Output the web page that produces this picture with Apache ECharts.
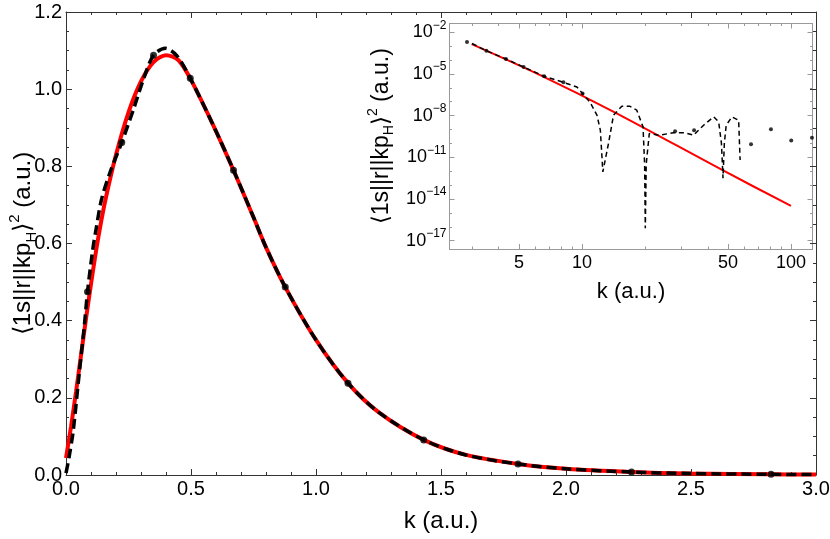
<!DOCTYPE html>
<html>
<head>
<meta charset="utf-8">
<script src="https://cdn.jsdelivr.net/npm/echarts@6/dist/echarts.min.js"></script>
<style>
html, body { margin: 0; padding: 0; background: #fff; }
#chart { width: 830px; height: 539px; }
</style>
</head>
<body>
<div id="chart"></div>
<script>
// main panel, k in a.u.
var kRed = [0, 0.02, 0.04, 0.06, 0.08, 0.1, 0.12, 0.14, 0.16, 0.2, 0.25, 0.3, 0.35, 0.4, 0.45, 0.5,
    0.59, 0.67, 0.75, 0.8, 0.877, 1.0, 1.128, 1.25, 1.431, 1.6, 1.808, 2.0, 2.262, 2.5, 2.82, 3.0];
var vRed = [0.044, 0.125, 0.215, 0.31, 0.405, 0.495, 0.58, 0.655, 0.72, 0.83, 0.94, 1.02, 1.07, 1.088, 1.075, 1.024,
    0.905, 0.79, 0.668, 0.59, 0.487, 0.35, 0.238, 0.163, 0.091, 0.052, 0.0286, 0.016, 0.0078, 0.0038, 0.0018, 0.0011];

var kNum = [0, 0.012, 0.029, 0.053, 0.073, 0.086, 0.107, 0.12, 0.142, 0.176, 0.223, 0.27, 0.31, 0.35, 0.397, 0.443, 0.497,
    0.59, 0.67, 0.75, 0.8, 0.877, 1.0, 1.128, 1.25, 1.431, 1.6, 1.808, 2.0, 2.262, 2.5, 2.82, 3.0];
var vNum = [0.005, 0.045, 0.115, 0.264, 0.385, 0.475, 0.584, 0.636, 0.714, 0.784, 0.862, 0.948, 1.026, 1.088, 1.106, 1.087, 1.028,
    0.905, 0.79, 0.668, 0.59, 0.487, 0.35, 0.238, 0.163, 0.091, 0.052, 0.0286, 0.016, 0.0078, 0.0038, 0.0018, 0.0011];

var kDots = [0.086, 0.223, 0.35, 0.497, 0.67, 0.877, 1.128, 1.431, 1.808, 2.262, 2.82];
var vDots = [0.475, 0.862, 1.088, 1.028, 0.79, 0.487, 0.238, 0.091, 0.0286, 0.0078, 0.0018];

// inset (log-log), values given as log10 exponents
var insetRedK = [2.97, 6.31, 14.2, 47.1, 100];
var insetRedExp = [-2.86, -5.09, -7.73, -11.93, -14.5];

var insetNumK = [2.98, 3.48, 4.33, 5.25, 6.61, 8.13, 9.46, 10.07, 10.96, 11.8, 12.25, 12.59, 13.4, 14.16, 15.52, 16.9, 18.3,
    19.6, 19.95, 20.1, 20.3, 21.0, 23.3, 27.4, 31.2, 34.2, 38.2, 42.7, 45.1, 46.5, 47.3, 48.0, 49.0, 52.2, 56.2, 57.1];
var insetNumExp = [-2.81, -3.33, -3.92, -4.5, -5.17, -5.6, -5.94, -6.41, -7.06, -7.97, -9.05, -12.05, -10.0, -7.97, -7.32, -7.32, -7.61,
    -8.81, -11.5, -16.1, -11.5, -9.29, -9.41, -9.24, -9.24, -9.41, -8.69, -8.09, -8.45, -10.0, -12.5, -10.0, -8.69, -8.09, -8.33, -11.2];

var insetDotK = [2.82, 3.49, 4.33, 5.26, 6.6, 8.16, 10.07, 27.9, 34.4, 64.4, 80.2, 100.3, 126];
var insetDotExp = [-2.7, -3.33, -3.92, -4.5, -5.17, -5.6, -6.41, -9.12, -9.05, -10.06, -8.98, -9.79, -9.6];

var insetXLabels = [5, 10, 50, 100];
var insetXMinor = [3, 4, 6, 7, 8, 9, 20, 30, 40, 60, 70, 80, 90];
var insetYLabels = [-17, -14, -11, -8, -5, -2];
var insetYMinor = [-17, -16, -15, -14, -13, -12, -11, -10, -9, -8, -7, -6, -5, -4, -3, -2];

var FONT = "'Liberation Sans', Arial, Helvetica, sans-serif";
var FRAME = '#333';
var IFRAME = '#999';

function pairs(xs, ys) {
    return xs.map(function (x, i) { return [x, ys[i]]; });
}
function logPairs(ks, exps) {
    return ks.map(function (k, i) { return [Math.log10(k), exps[i]]; });
}
function lg(list) {
    return list.map(function (v) { return Math.log10(v); });
}

var titleRich = {
    t: { fontSize: 24, fontFamily: FONT, color: '#000', lineHeight: 32 },
    sub: { fontSize: 15, fontFamily: FONT, color: '#000', lineHeight: 22, verticalAlign: 'bottom' },
    sup: { fontSize: 15, fontFamily: FONT, color: '#000', lineHeight: 17, verticalAlign: 'top' }
};
var insetTitleRich = {
    t: { fontSize: 23, fontFamily: FONT, color: '#000', lineHeight: 30 },
    sub: { fontSize: 14, fontFamily: FONT, color: '#000', lineHeight: 20, verticalAlign: 'bottom' },
    sup: { fontSize: 14, fontFamily: FONT, color: '#000', lineHeight: 16, verticalAlign: 'top' }
};
var titleText = '{t|⟨1s||r||kp}{sub|H}{t|⟩}{sup|2}{t| (a.u.)}';

/** value axis builder for the main panel */
function mainAxis(opt) {
    var ax = {
        type: 'value',
        gridIndex: 0,
        min: opt.min, max: opt.max, interval: opt.interval,
        position: opt.position,
        axisLine: { show: true, onZero: false, lineStyle: { color: FRAME, width: 1 } },
        axisTick: { show: true, inside: true, length: 6, lineStyle: { color: FRAME } },
        minorTick: { show: true, splitNumber: opt.minor, length: 3, lineStyle: { color: FRAME } },
        splitLine: { show: false },
        minorSplitLine: { show: false },
        axisLabel: { show: !!opt.labels, fontSize: 20, fontFamily: FONT, color: '#000', margin: 4,
            formatter: function (v) { return v.toFixed(1); } }
    };
    if (opt.name) {
        ax.name = opt.name;
        ax.nameLocation = 'middle';
        ax.nameGap = opt.nameGap;
        ax.nameMoveOverlap = false;
        ax.nameTextStyle = opt.nameStyle;
    }
    return ax;
}

/** value axis builder for the inset (log10 units) */
function insetAxis(opt) {
    var ax = {
        type: 'value',
        gridIndex: 1,
        min: opt.min, max: opt.max,
        position: opt.position,
        axisLine: { show: true, onZero: false, lineStyle: { color: IFRAME, width: 1 } },
        axisTick: { show: true, inside: true, length: opt.major ? 5 : 2.5, customValues: opt.ticks,
            lineStyle: { color: IFRAME } },
        splitLine: { show: false },
        axisLabel: { show: false }
    };
    if (opt.labels) {
        ax.axisLabel = {
            show: true, customValues: opt.labels, margin: opt.margin,
            fontSize: 18, fontFamily: FONT, color: '#000',
            formatter: opt.formatter, rich: opt.rich
        };
    }
    if (opt.name) {
        ax.name = opt.name;
        ax.nameLocation = 'middle';
        ax.nameGap = opt.nameGap;
        ax.nameMoveOverlap = false;
        ax.nameTextStyle = opt.nameStyle;
    }
    return ax;
}

var ixMin = 0.3665, ixMax = 2.103;
var iyMin = -17.6, iyMax = -1.37;

var option = {
    animation: false,
    backgroundColor: '#fff',
    grid: [
        { left: 66, right: 14, top: 12, bottom: 64, outerBoundsMode: 'none', containLabel: false },
        { left: 449.5, right: 17.5, top: 23.5, bottom: 290, outerBoundsMode: 'none', containLabel: false,
            show: true, backgroundColor: '#fff', borderWidth: 0 }
    ],
    xAxis: [
        mainAxis({ min: 0, max: 3, interval: 0.5, minor: 5, position: 'bottom', labels: true,
            name: 'k (a.u.)', nameGap: 34, nameStyle: { fontSize: 24, fontFamily: FONT, color: '#000' } }),
        mainAxis({ min: 0, max: 3, interval: 0.5, minor: 5, position: 'top' }),
        insetAxis({ min: ixMin, max: ixMax, position: 'bottom', major: true, ticks: lg(insetXLabels),
            labels: lg(insetXLabels), margin: 5,
            formatter: function (v) { return String(Math.round(Math.pow(10, v))); },
            name: 'k (a.u.)', nameGap: 32, nameStyle: { fontSize: 22, fontFamily: FONT, color: '#000' } }),
        insetAxis({ min: ixMin, max: ixMax, position: 'bottom', ticks: lg(insetXMinor) }),
        insetAxis({ min: ixMin, max: ixMax, position: 'top', major: true, ticks: lg(insetXLabels) }),
        insetAxis({ min: ixMin, max: ixMax, position: 'top', ticks: lg(insetXMinor) })
    ],
    yAxis: [
        mainAxis({ min: 0, max: 1.2, interval: 0.2, minor: 4, position: 'left', labels: true,
            name: titleText, nameGap: 27, nameStyle: { rich: titleRich } }),
        mainAxis({ min: 0, max: 1.2, interval: 0.2, minor: 4, position: 'right' }),
        insetAxis({ min: iyMin, max: iyMax, position: 'left', major: true, ticks: insetYLabels,
            labels: insetYLabels, margin: 3,
            formatter: function (v) { return '{b|10}{e|' + String(v).replace('-', '−') + '}'; },
            rich: {
                b: { fontSize: 18, fontFamily: FONT, color: '#000', lineHeight: 26 },
                e: { fontSize: 12, fontFamily: FONT, color: '#000', lineHeight: 12, verticalAlign: 'top' }
            },
            name: titleText, nameGap: 53, nameStyle: { rich: insetTitleRich } }),
        insetAxis({ min: iyMin, max: iyMax, position: 'left', ticks: insetYMinor }),
        insetAxis({ min: iyMin, max: iyMax, position: 'right', major: true, ticks: insetYLabels }),
        insetAxis({ min: iyMin, max: iyMax, position: 'right', ticks: insetYMinor })
    ],
    series: [
        {
            type: 'line', xAxisIndex: 0, yAxisIndex: 0, z: 2,
            data: pairs(kRed, vRed), smooth: 0.3, showSymbol: false,
            lineStyle: { color: '#ff0000', width: 4 }
        },
        {
            type: 'line', xAxisIndex: 0, yAxisIndex: 0, z: 3,
            data: pairs(kNum, vNum), smooth: 0.3, showSymbol: false,
            lineStyle: { color: '#000', width: 3.5, type: [10, 5] }
        },
        {
            type: 'scatter', xAxisIndex: 0, yAxisIndex: 0, z: 4,
            data: pairs(kDots, vDots), symbolSize: 7,
            itemStyle: { color: '#000' }
        },
        {
            type: 'line', xAxisIndex: 2, yAxisIndex: 2, z: 5,
            data: logPairs(insetRedK, insetRedExp), smooth: 0.3, showSymbol: false,
            lineStyle: { color: '#ff0000', width: 2 }
        },
        {
            type: 'line', xAxisIndex: 2, yAxisIndex: 2, z: 6,
            data: logPairs(insetNumK, insetNumExp), showSymbol: false,
            lineStyle: { color: '#000', width: 1.5, type: [5, 3.5] }
        },
        {
            type: 'scatter', xAxisIndex: 2, yAxisIndex: 2, z: 7,
            data: logPairs(insetDotK, insetDotExp), symbolSize: 4,
            itemStyle: { color: '#000' }
        }
    ]
};

var myChart = echarts.init(document.getElementById('chart'), null, { renderer: 'canvas' });
myChart.setOption(option);
</script>
</body>
</html>
